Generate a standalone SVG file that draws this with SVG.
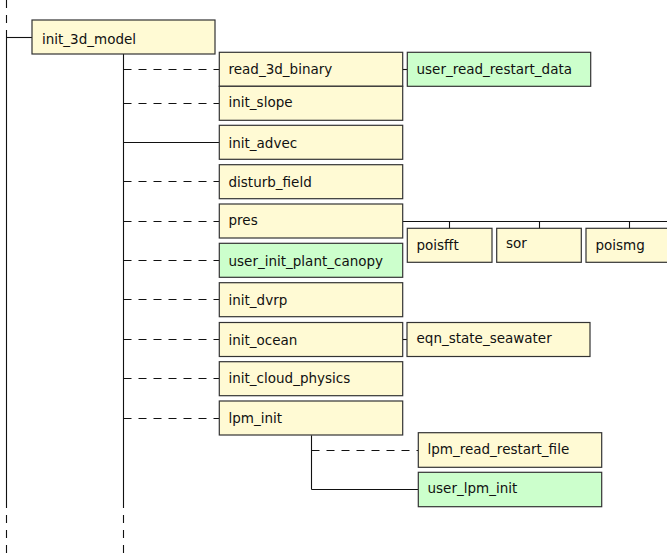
<svg xmlns="http://www.w3.org/2000/svg" width="667" height="553" viewBox="0 0 667 553">
<style>
.n rect{fill:#fffad4;stroke:#333;stroke-width:1.2}
.u rect{fill:#ccffcc;stroke:#333;stroke-width:1.2}
text{font-family:"DejaVu Sans",sans-serif;font-size:13.5px;fill:#111}
.c line{stroke:#111;stroke-width:1.1;fill:none}
.c .d{stroke-dasharray:8,7}
</style>
<rect width="667" height="553" fill="#fff"/>
<g class="c" id="connectors">
<line class="d" x1="6.5" y1="0" x2="6.5" y2="38"/>
<line x1="6.5" y1="37.5" x2="6.5" y2="508"/>
<line class="d" x1="6.5" y1="515" x2="6.5" y2="553"/>
<line x1="6.5" y1="37.5" x2="32" y2="37.5"/>
<line x1="123.5" y1="54" x2="123.5" y2="508"/>
<line class="d" x1="123.5" y1="515" x2="123.5" y2="553"/>
<line class="d" x1="123.5" y1="69.5" x2="219" y2="69.5"/>
<line class="d" x1="123.5" y1="103.5" x2="219" y2="103.5"/>
<line x1="123.5" y1="142.5" x2="219" y2="142.5"/>
<line class="d" x1="123.5" y1="181.5" x2="219" y2="181.5"/>
<line class="d" x1="123.5" y1="221.5" x2="219" y2="221.5"/>
<line class="d" x1="123.5" y1="260.5" x2="219" y2="260.5"/>
<line class="d" x1="123.5" y1="299.5" x2="219" y2="299.5"/>
<line class="d" x1="123.5" y1="339.5" x2="219" y2="339.5"/>
<line class="d" x1="123.5" y1="378.5" x2="219" y2="378.5"/>
<line class="d" x1="123.5" y1="418.5" x2="219" y2="418.5"/>
<line x1="403" y1="69.5" x2="407" y2="69.5"/>
<line x1="403" y1="339.5" x2="407" y2="339.5"/>
<line x1="403" y1="221.5" x2="667" y2="221.5"/>
<line x1="449.5" y1="221.5" x2="449.5" y2="228.3"/>
<line x1="539.5" y1="221.5" x2="539.5" y2="228.3"/>
<line x1="629.5" y1="221.5" x2="629.5" y2="228.3"/>
<line x1="311.5" y1="435.3" x2="311.5" y2="489.5"/>
<line class="d" x1="311.5" y1="450.5" x2="418" y2="450.5"/>
<line x1="311.5" y1="489.5" x2="418" y2="489.5"/>
</g>
<g id="init_3d_model" class="n"><rect x="32" y="20" width="183" height="34"/><text x="42" y="44">init_3d_model</text></g>
<g id="read_3d_binary" class="n"><rect x="219.3" y="52.3" width="183.4" height="34"/><text x="228.5" y="73.5">read_3d_binary</text></g>
<g id="init_slope" class="n"><rect x="219.3" y="86.3" width="183.4" height="34"/><text x="228.5" y="107">init_slope</text></g>
<g id="init_advec" class="n"><rect x="219.3" y="125.3" width="183.4" height="34"/><text x="228.5" y="147.5">init_advec</text></g>
<g id="disturb_field" class="n"><rect x="219.3" y="164.7" width="183.4" height="34"/><text x="228.5" y="186.5">disturb_field</text></g>
<g id="pres" class="n"><rect x="219.3" y="204" width="183.4" height="34"/><text x="228.5" y="224.5">pres</text></g>
<g id="user_init_plant_canopy" class="u"><rect x="219.3" y="243.3" width="183.4" height="34"/><text x="228.5" y="266">user_init_plant_canopy</text></g>
<g id="init_dvrp" class="n"><rect x="219.3" y="282.7" width="183.4" height="34"/><text x="228.5" y="304.5">init_dvrp</text></g>
<g id="init_ocean" class="n"><rect x="219.3" y="322.5" width="183.4" height="34"/><text x="228.5" y="345">init_ocean</text></g>
<g id="init_cloud_physics" class="n"><rect x="219.3" y="361.7" width="183.4" height="34"/><text x="228.5" y="382.7">init_cloud_physics</text></g>
<g id="lpm_init" class="n"><rect x="219.3" y="401" width="183.4" height="34"/><text x="228.5" y="422.7">lpm_init</text></g>
<g id="user_read_restart_data" class="u"><rect x="407.3" y="52.3" width="183.4" height="34"/><text x="416.5" y="74.3">user_read_restart_data</text></g>
<g id="poisfft" class="n"><rect x="407.3" y="228.3" width="84.7" height="34"/><text x="416.5" y="250">poisfft</text></g>
<g id="sor" class="n"><rect x="496.7" y="228.3" width="84.6" height="34"/><text x="506" y="248.3">sor</text></g>
<g id="poismg" class="n"><rect x="586" y="228.3" width="86" height="34"/><text x="595.5" y="250">poismg</text></g>
<g id="eqn_state_seawater" class="n"><rect x="407" y="322.5" width="183" height="34"/><text x="416.5" y="343.3">eqn_state_seawater</text></g>
<g id="lpm_read_restart_file" class="n"><rect x="418.3" y="432.7" width="183.4" height="34.6"/><text x="427.5" y="454">lpm_read_restart_file</text></g>
<g id="user_lpm_init" class="u"><rect x="418.3" y="472.3" width="183.4" height="34.4"/><text x="427.5" y="493.3">user_lpm_init</text></g>
</svg>
